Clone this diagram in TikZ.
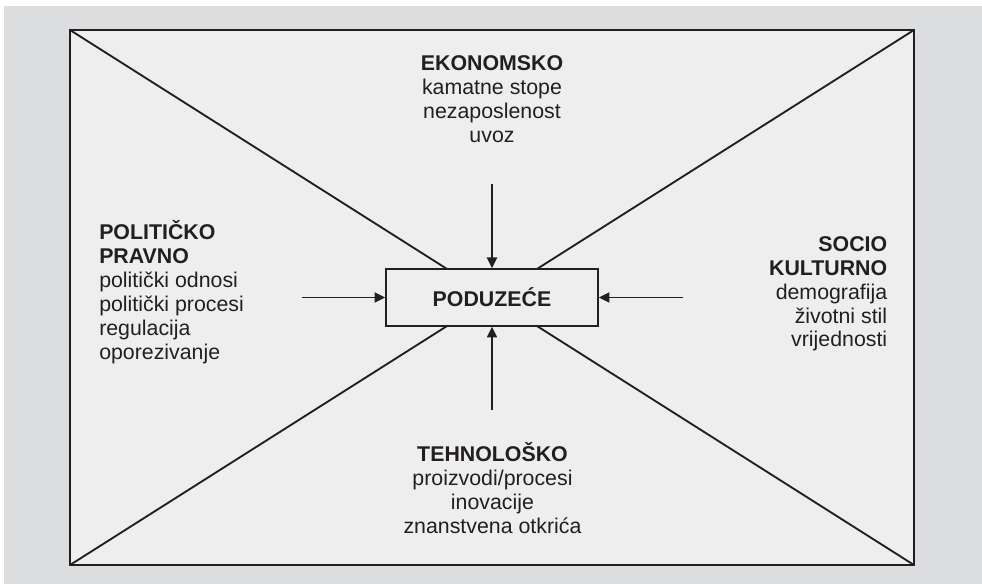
\documentclass[tikz,border=0pt]{standalone}
\usepackage{fontspec}
\setmainfont{Liberation Sans}
\usetikzlibrary{arrows.meta}
\definecolor{pageGray}{HTML}{DCDDDF}
\definecolor{panelGray}{HTML}{EEEEEE}
\definecolor{inkBlack}{HTML}{231F20}

\begin{document}
\begin{tikzpicture}[x = 0.75pt, y = -0.75pt]
	\tikzstyle{frameStyle} = [draw = inkBlack, line width = 1.5pt, fill = panelGray]
	\tikzstyle{rayStyle} = [draw = inkBlack, line width = 1.4pt]
	\tikzstyle{forceStyle} = [draw = inkBlack, line width = 1.4pt, -{Triangle[length = 8pt, width = 7.5pt]}]
	\tikzstyle{hubStyle} = [draw = inkBlack, line width = 1.5pt, fill = panelGray, minimum width = 158.5pt, minimum height = 42.5pt, font = \fontsize{16}{18}\selectfont\bfseries, text = inkBlack]
	\tikzstyle{factorStyle} = [inner sep = 0pt, text = inkBlack, font = \fontsize{16}{17.9}\selectfont]
	\useasboundingbox (0, 0) rectangle (982, 584);
	\fill[pageGray] (4, 6) rectangle (982, 584);
	\coordinate (tl) at (70, 30);
	\coordinate (tr) at (914, 30);
	\coordinate (bl) at (70, 565);
	\coordinate (br) at (914, 565);
	\draw[frameStyle] (tl) rectangle (br);
	\draw[rayStyle] (tl) -- (br);
	\draw[rayStyle] (tr) -- (bl);
	\node[hubStyle] (firm) at (492, 297.5) {PODUZEĆE};
	\node[factorStyle, align = center, anchor = base] (eco) at (492, 142.5) {\textbf{EKONOMSKO}\\kamatne stope\\nezaposlenost\\uvoz};
	\node[factorStyle, align = left, anchor = base west] (pol) at (99, 359.3) {\textbf{POLITIČKO}\\\textbf{PRAVNO}\\politički odnosi\\politički procesi\\regulacija\\oporezivanje};
	\node[factorStyle, align = right, anchor = base east] (soc) at (887.5, 347) {\textbf{SOCIO}\\\textbf{KULTURNO}\\demografija\\životni stil\\vrijednosti};
	\node[factorStyle, align = center, anchor = base] (teh) at (492.5, 533.3) {\textbf{TEHNOLOŠKO}\\proizvodi/procesi\\inovacije\\znanstvena otkrića};
	\coordinate (ecoTail) at (492, 184);
	\coordinate (polTail) at (301.5, 297.5);
	\coordinate (socTail) at (683, 297.5);
	\coordinate (tehTail) at (492, 410);
	\draw[forceStyle] (ecoTail) -- (firm.north);
	\draw[forceStyle] (polTail) -- (firm.west);
	\draw[forceStyle] (socTail) -- (firm.east);
	\draw[forceStyle] (tehTail) -- (firm.south);
\end{tikzpicture}
\end{document}
